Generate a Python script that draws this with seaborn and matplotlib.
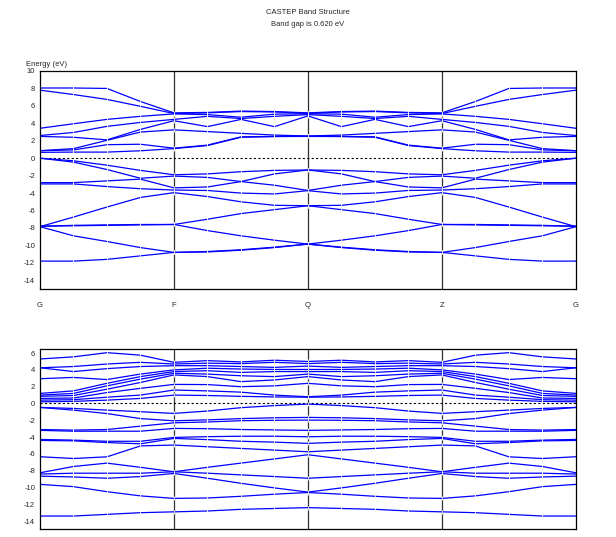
import numpy as np
import pandas as pd
import matplotlib
matplotlib.use('Agg')
import matplotlib.pyplot as plt
import seaborn as sns

# k-path: 4 steps per segment, G-F-Q-Z-G
kpts = list(range(17))
klabels = ['G', 'F', 'Q', 'Z', 'G']
kticks = [0, 4, 8, 12, 16]

# ---- top panel bands (eV) ----
top_bands = {
    'v1': [-11.8, -11.8, -11.6, -11.2, -10.8, -10.75, -10.55, -10.25, -9.85, -10.25, -10.55, -10.75, -10.8, -11.2, -11.6, -11.8, -11.8],
    'v2': [-7.85, -8.9, -9.55, -10.25, -10.8, -10.7, -10.5, -10.2, -9.85, -10.2, -10.5, -10.7, -10.8, -10.25, -9.55, -8.9, -7.85],
    'v3': [-7.8, -7.75, -7.7, -7.65, -7.6, -8.3, -8.9, -9.4, -9.85, -9.4, -8.9, -8.3, -7.6, -7.65, -7.7, -7.75, -7.8],
    'v4': [-7.8, -7.7, -7.65, -7.6, -7.6, -7.0, -6.35, -5.9, -5.45, -5.9, -6.35, -7.0, -7.6, -7.6, -7.65, -7.7, -7.8],
    'v5': [-7.85, -6.75, -5.6, -4.5, -3.95, -4.4, -5.0, -5.4, -5.45, -5.4, -5.0, -4.4, -3.95, -4.5, -5.6, -6.75, -7.85],
    'v6': [-2.95, -2.95, -3.25, -3.5, -3.65, -3.7, -4.0, -4.1, -3.72, -4.1, -4.0, -3.7, -3.65, -3.5, -3.25, -2.95, -2.95],
    'v7': [-2.8, -2.8, -2.6, -2.4, -3.4, -3.3, -2.68, -3.1, -3.7, -3.1, -2.68, -3.3, -3.4, -2.4, -2.6, -2.8, -2.8],
    'v8': [0.0, -0.45, -1.3, -2.3, -2.05, -2.2, -2.68, -1.8, -1.35, -1.8, -2.68, -2.2, -2.05, -2.3, -1.3, -0.45, 0.0],
    'v9': [0.0, -0.3, -0.8, -1.4, -1.9, -1.8, -1.55, -1.4, -1.35, -1.4, -1.55, -1.8, -1.9, -1.4, -0.8, -0.3, 0.0],
    'c1': [0.67, 0.70, 0.70, 0.85, 1.10, 1.45, 2.40, 2.48, 2.50, 2.48, 2.40, 1.45, 1.10, 0.85, 0.70, 0.70, 0.67],
    'c2': [0.86, 0.95, 1.55, 1.60, 1.15, 1.50, 2.45, 2.50, 2.52, 2.50, 2.45, 1.50, 1.15, 1.60, 1.55, 0.95, 0.86],
    'c3': [0.86, 1.10, 2.05, 3.00, 3.25, 3.05, 2.85, 2.65, 2.55, 2.65, 2.85, 3.05, 3.25, 3.00, 2.05, 1.10, 0.86],
    'c4': [2.50, 2.40, 2.10, 3.30, 4.30, 3.62, 4.45, 3.62, 4.85, 3.62, 4.45, 3.62, 4.30, 3.30, 2.10, 2.40, 2.50],
    'c5': [2.60, 2.95, 3.65, 4.10, 4.45, 4.80, 4.55, 4.80, 5.00, 4.80, 4.55, 4.80, 4.45, 4.10, 3.65, 2.95, 2.60],
    'c6': [3.43, 3.95, 4.45, 4.80, 5.08, 5.00, 4.70, 5.05, 5.10, 5.05, 4.70, 5.00, 5.08, 4.80, 4.45, 3.95, 3.43],
    'c7': [7.80, 7.30, 6.74, 5.95, 5.12, 5.20, 5.35, 5.30, 5.15, 5.30, 5.35, 5.20, 5.12, 5.95, 6.74, 7.30, 7.80],
    'c8': [8.05, 8.05, 8.00, 6.50, 5.20, 5.25, 5.40, 5.35, 5.20, 5.35, 5.40, 5.25, 5.20, 6.50, 8.00, 8.05, 8.05],
}

# ---- bottom panel bands (eV) ----
bottom_bands = {
    'v1': [-13.4, -13.4, -13.2, -13.0, -12.9, -12.8, -12.6, -12.5, -12.4, -12.5, -12.6, -12.8, -12.9, -13.0, -13.2, -13.4, -13.4],
    'v2': [-9.63, -9.9, -10.5, -11.0, -11.3, -11.25, -11.05, -10.8, -10.6, -10.8, -11.05, -11.25, -11.3, -11.0, -10.5, -9.9, -9.63],
    'v3': [-8.65, -8.75, -8.9, -8.7, -8.33, -8.9, -9.5, -10.05, -10.55, -10.05, -9.5, -8.9, -8.33, -8.7, -8.9, -8.75, -8.65],
    'v4': [-8.4, -8.3, -8.3, -8.3, -8.13, -8.3, -8.5, -8.7, -8.9, -8.7, -8.5, -8.3, -8.13, -8.3, -8.3, -8.3, -8.4],
    'v5': [-8.25, -7.5, -7.1, -7.6, -8.13, -7.6, -7.1, -6.6, -6.1, -6.6, -7.1, -7.6, -8.13, -7.6, -7.1, -7.5, -8.25],
    'v6': [-6.34, -6.55, -6.35, -5.05, -4.95, -5.15, -5.35, -5.55, -5.75, -5.55, -5.35, -5.15, -4.95, -5.05, -6.35, -6.55, -6.34],
    'v7': [-4.4, -4.45, -4.65, -4.8, -4.16, -4.3, -4.5, -4.6, -4.75, -4.6, -4.5, -4.3, -4.16, -4.8, -4.65, -4.45, -4.4],
    'v8': [-4.28, -4.36, -4.5, -4.5, -4.04, -3.95, -3.9, -3.9, -3.96, -3.9, -3.9, -3.95, -4.04, -4.5, -4.5, -4.36, -4.28],
    'v9': [-3.2, -3.3, -3.3, -3.3, -2.97, -3.0, -3.1, -3.15, -3.2, -3.15, -3.1, -3.0, -2.97, -3.3, -3.3, -3.3, -3.2],
    'v10': [-3.1, -3.17, -3.1, -2.7, -2.3, -2.2, -2.05, -2.0, -1.98, -2.0, -2.05, -2.2, -2.3, -2.7, -3.1, -3.17, -3.1],
    'v11': [-0.47, -0.79, -1.2, -1.8, -2.06, -1.95, -1.8, -1.7, -1.66, -1.7, -1.8, -1.95, -2.06, -1.8, -1.2, -0.79, -0.47],
    'v12': [-0.47, -0.59, -0.79, -0.98, -1.18, -0.9, -0.5, -0.25, -0.07, -0.25, -0.5, -0.9, -1.18, -0.98, -0.79, -0.59, -0.47],
    'c1': [0.20, 0.25, 0.40, 0.60, 1.00, 0.95, 0.85, 0.78, 0.75, 0.78, 0.85, 0.95, 1.00, 0.60, 0.40, 0.25, 0.20],
    'c2': [0.40, 0.45, 0.75, 1.00, 1.60, 1.50, 1.35, 1.00, 0.80, 1.00, 1.35, 1.50, 1.60, 1.00, 0.75, 0.45, 0.40],
    'c3': [0.60, 0.65, 1.30, 1.80, 2.27, 2.25, 2.00, 2.10, 2.40, 2.10, 2.00, 2.25, 2.27, 1.80, 1.30, 0.65, 0.60],
    'c4': [0.85, 0.95, 1.70, 2.50, 3.40, 3.20, 2.60, 2.80, 3.20, 2.80, 2.60, 3.20, 3.40, 2.50, 1.70, 0.95, 0.85],
    'c5': [1.00, 1.20, 2.10, 2.90, 3.60, 3.50, 3.30, 3.20, 3.50, 3.20, 3.30, 3.50, 3.60, 2.90, 2.10, 1.20, 1.00],
    'c6': [1.20, 1.50, 2.40, 3.20, 3.80, 3.90, 3.70, 3.80, 3.80, 3.80, 3.70, 3.90, 3.80, 3.20, 2.40, 1.50, 1.20],
    'c7': [2.95, 3.10, 2.85, 3.50, 4.00, 4.20, 4.10, 4.05, 4.05, 4.05, 4.10, 4.20, 4.00, 3.50, 2.85, 3.10, 2.95],
    'c8': [4.25, 3.80, 4.15, 4.40, 4.50, 4.50, 4.40, 4.30, 4.45, 4.30, 4.40, 4.50, 4.50, 4.40, 4.15, 3.80, 4.25],
    'c9': [4.25, 4.40, 4.70, 4.90, 4.70, 4.80, 4.75, 4.90, 4.75, 4.90, 4.75, 4.80, 4.70, 4.90, 4.70, 4.40, 4.25],
    'c10': [5.30, 5.55, 6.05, 5.75, 4.90, 5.10, 4.95, 5.15, 5.00, 5.15, 4.95, 5.10, 4.90, 5.75, 6.05, 5.55, 5.30],
}


def to_long(bands):
    rows = []
    for name, vals in bands.items():
        for k, e in zip(kpts, vals):
            rows.append((name, k, e))
    return pd.DataFrame(rows, columns=['band', 'k', 'E'])


sns.set_style('white')
plt.rcParams['font.family'] = ['Liberation Sans', 'DejaVu Sans']

fig = plt.figure(figsize=(6.16, 5.37), dpi=100)
ax1 = fig.add_axes([0.0649, 0.4618, 0.870, 0.406])
ax2 = fig.add_axes([0.0649, 0.014, 0.870, 0.336])


def draw_panel(ax, bands, ylim):
    df = to_long(bands)
    sns.lineplot(data=df, x='k', y='E', units='band', estimator=None,
                 color='#0000ff', lw=0.9, marker='|', markersize=3,
                 markeredgewidth=0.6, ax=ax, legend=False)
    ax.axhline(0, color='black', ls=(0, (2, 2)), lw=0.8, zorder=1)
    for x in kticks[1:-1]:
        ax.axvline(x, color='#303030', lw=0.9, zorder=0)
    ax.set_xlim(0, 16)
    ax.set_ylim(*ylim)
    ax.set_xticks(kticks)
    ax.set_xticklabels(klabels, fontsize=5.5)
    ax.set_yticks(np.arange(-14, ylim[1] + 0.1, 2))
    ax.set_yticks(np.arange(-15, ylim[1], 1), minor=True)
    ax.set_yticklabels([str(int(t)) for t in np.arange(-14, ylim[1] + 0.1, 2)], fontsize=5.5)
    ax.tick_params(axis='y', which='major', direction='inout', length=4, width=0.8, pad=1.5)
    ax.tick_params(axis='y', which='minor', direction='inout', length=3, width=0.6)
    ax.tick_params(axis='x', direction='out', length=3, width=0.8, pad=6)
    ax.set_xlabel('')
    ax.set_ylabel('')
    for s in ax.spines.values():
        s.set_color('black')
        s.set_linewidth(0.9)


draw_panel(ax1, top_bands, (-15, 10))
draw_panel(ax2, bottom_bands, (-15, 6.48))

fig.text(0.5, 0.977, 'CASTEP Band Structure', ha='center', va='center', fontsize=5.5)
fig.text(0.5, 0.955, 'Band gap is 0.620 eV', ha='center', va='center', fontsize=5.5)
fig.text(0.042, 0.88, 'Energy (eV)', ha='left', va='center', fontsize=5.5)

fig.savefig('out.png', dpi=100)
